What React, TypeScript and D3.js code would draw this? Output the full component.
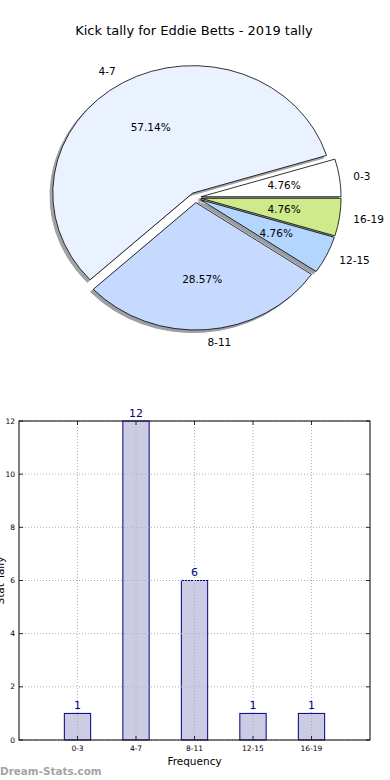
import * as d3 from 'd3';

// data
const categories = ['0-3', '4-7', '8-11', '12-15', '16-19'];
const counts = [1, 12, 6, 1, 1];
const pieColors = ['#ffffff', '#ebf2ff', '#c6d9ff', '#b3d6ff', '#cfea8b'];
const yTicks = [0, 2, 4, 6, 8, 10, 12];

const title = 'Kick tally for Eddie Betts - 2019 tally';
const xLabel = 'Frequency';
const yLabel = 'Stat Tally';

const W = 390;
const H = 780;
const font = '"DejaVu Sans", sans-serif';

// pie geometry (matplotlib style: unit radius, squashed axes)
const pieC = { x: 195.5, y: 197.5 };
const rx = 140;
const ry = 127.5;
const explode = 0.04;

// bar axes box
const box = { left: 19, right: 370, top: 421, bottom: 740 };

function Pie() {
  const total = d3.sum(counts);
  const pie = d3.pie<number>().sort(null).startAngle(Math.PI / 2).endAngle(Math.PI / 2 - 2 * Math.PI);
  const arcs = pie(counts);
  const arc = d3.arc<d3.PieArcDatum<number>>().innerRadius(0).outerRadius(1);

  const items = arcs.map((a, i) => {
    const theta = Math.PI / 2 - (a.startAngle + a.endAngle) / 2;
    const cx = pieC.x + explode * Math.cos(theta) * rx;
    const cy = pieC.y - explode * Math.sin(theta) * ry;
    return { a, i, theta, cx, cy };
  });

  return (
    <g>
      {/* shadows */}
      {items.map(({ a, i, cx, cy }) => {
        const c = d3.rgb(pieColors[i]);
        const sc = d3.rgb(c.r * 0.3, c.g * 0.3, c.b * 0.3).toString();
        return (
          <g key={'s' + i} opacity={0.5}>
            <path
              d={arc(a) || ''}
              transform={`translate(${cx - 0.02 * rx},${cy + 0.02 * ry}) scale(${rx},${ry})`}
              fill={sc}
              stroke={sc}
              strokeWidth={1}
              vectorEffect="non-scaling-stroke"
            />
          </g>
        );
      })}
      {items.map(({ a, i, cx, cy }) => (
        <path
          key={'w' + i}
          d={arc(a) || ''}
          transform={`translate(${cx},${cy}) scale(${rx},${ry})`}
          fill={pieColors[i]}
          stroke="#000"
          strokeWidth={0.8}
          vectorEffect="non-scaling-stroke"
        />
      ))}
      {items.map(({ i, theta, cx, cy }) => {
        const lx = cx + 1.1 * Math.cos(theta) * rx;
        const ly = cy - 1.1 * Math.sin(theta) * ry;
        const px = cx + 0.6 * Math.cos(theta) * rx;
        const py = cy - 0.6 * Math.sin(theta) * ry;
        return (
          <g key={'t' + i} fontFamily={font} fontSize={10.5} fill="#000">
            <text x={lx} y={ly} dy="0.35em" textAnchor={Math.cos(theta) < 0 ? 'end' : 'start'}>
              {categories[i]}
            </text>
            <text x={px} y={py} dy="0.35em" textAnchor="middle">
              {((counts[i] / total) * 100).toFixed(2) + '%'}
            </text>
          </g>
        );
      })}
    </g>
  );
}

function Bars() {
  const x = d3.scaleLinear().domain([-1, categories.length]).range([box.left, box.right]);
  const y = d3.scaleLinear().domain([0, 12]).range([box.bottom, box.top]);
  const bw = 0.45;
  const idx = d3.range(categories.length);

  return (
    <g>
      {idx.map((i) => (
        <rect
          key={'b' + i}
          x={x(i - bw / 2)}
          y={y(counts[i])}
          width={x(bw) - x(0)}
          height={y(0) - y(counts[i])}
          fill="#cbcce4"
          stroke="#000080"
          strokeWidth={1}
        />
      ))}
      {/* grid */}
      <g stroke="#b0b0b0" strokeWidth={1} strokeDasharray="1,2">
        {yTicks.map((t) => (
          <line key={'gy' + t} x1={box.left} x2={box.right} y1={y(t)} y2={y(t)} />
        ))}
        {idx.map((i) => (
          <line key={'gx' + i} x1={x(i)} x2={x(i)} y1={box.top} y2={box.bottom} />
        ))}
      </g>
      {/* frame */}
      <rect
        x={box.left}
        y={box.top}
        width={box.right - box.left}
        height={box.bottom - box.top}
        fill="none"
        stroke="#000"
        strokeWidth={1}
      />
      {/* ticks */}
      <g stroke="#000" strokeWidth={0.8}>
        {yTicks.map((t) => (
          <g key={'ty' + t}>
            <line x1={box.left} x2={box.left + 4} y1={y(t)} y2={y(t)} />
            <line x1={box.right} x2={box.right - 4} y1={y(t)} y2={y(t)} />
          </g>
        ))}
        {idx.map((i) => (
          <g key={'tx' + i}>
            <line x1={x(i)} x2={x(i)} y1={box.bottom} y2={box.bottom - 4} />
            <line x1={x(i)} x2={x(i)} y1={box.top} y2={box.top + 4} />
          </g>
        ))}
      </g>
      <g fontFamily={font} fontSize={7.5} fill="#000">
        {yTicks.map((t) => (
          <text key={'ly' + t} x={box.left - 4} y={y(t)} dy="0.35em" textAnchor="end">
            {t}
          </text>
        ))}
        {idx.map((i) => (
          <text key={'lx' + i} x={x(i)} y={box.bottom + 10.5} textAnchor="middle">
            {categories[i]}
          </text>
        ))}
      </g>
      {/* value labels */}
      <g fontFamily={font} fontSize={11} fill="#000080">
        {idx.map((i) => (
          <text key={'v' + i} x={x(i)} y={y(counts[i]) - 4.5} textAnchor="middle">
            {counts[i]}
          </text>
        ))}
      </g>
      <text
        x={(box.left + box.right) / 2}
        y={box.bottom + 24.5}
        textAnchor="middle"
        fontFamily={font}
        fontSize={10.5}
      >
        {xLabel}
      </text>
      <text
        transform={`translate(4,${(box.top + box.bottom) / 2}) rotate(-90)`}
        textAnchor="middle"
        fontFamily={font}
        fontSize={10.5}
      >
        {yLabel}
      </text>
    </g>
  );
}

export default function App() {
  return (
    <svg
      width={W}
      height={H}
      viewBox={`0 0 ${W} ${H}`}
      style={{ position: 'absolute', left: 0, top: 0, background: '#fff' }}
    >
      <rect width={W} height={H} fill="#fff" />
      <text x={W / 2 - 1} y={34.5} textAnchor="middle" fontFamily={font} fontSize={13} fill="#000">
        {title}
      </text>
      <Pie />
      <Bars />
      <text x={0} y={775} fontFamily={font} fontSize={10.4} fontWeight="bold" fill="#a3a3a3">
        Dream-Stats.com
      </text>
    </svg>
  );
}
